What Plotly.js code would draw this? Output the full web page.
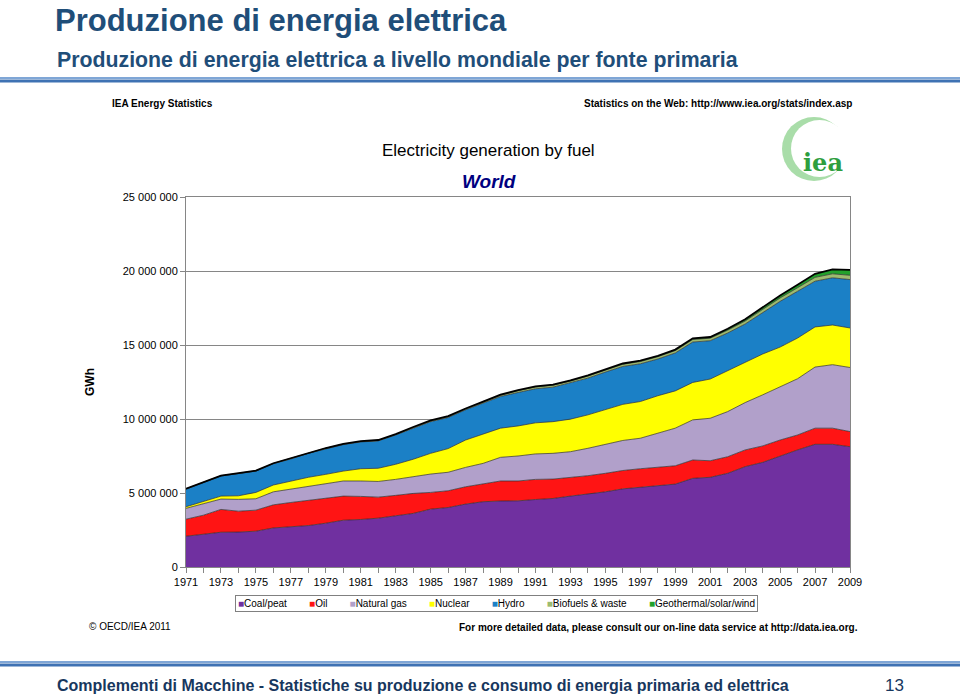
<!DOCTYPE html>
<html>
<head>
<meta charset="utf-8">
<script src="https://cdn.plot.ly/plotly-3.0.1.min.js"></script>
<style>
html,body{margin:0;padding:0;background:#fff;}
#chart{width:960px;height:697px;}
</style>
</head>
<body>
<div id="chart"></div>
<script>
// ---- Data (GWh) ----
const years = [1971,1972,1973,1974,1975,1976,1977,1978,1979,1980,
               1981,1982,1983,1984,1985,1986,1987,1988,1989,1990,
               1991,1992,1993,1994,1995,1996,1997,1998,1999,2000,
               2001,2002,2003,2004,2005,2006,2007,2008,2009];

const coal = [2080000,2220000,2350000,2360000,2420000,2640000,2730000,2800000,2960000,3160000,
              3210000,3300000,3460000,3620000,3910000,4020000,4250000,4410000,4460000,4470000,
              4560000,4630000,4790000,4930000,5080000,5280000,5380000,5490000,5600000,5990000,
              6060000,6330000,6780000,7070000,7500000,7910000,8290000,8290000,8130000];
const oil = [1150000,1280000,1540000,1410000,1420000,1560000,1630000,1720000,1710000,1630000,
             1560000,1420000,1380000,1350000,1130000,1130000,1170000,1190000,1350000,1340000,
             1360000,1310000,1240000,1240000,1250000,1240000,1260000,1260000,1240000,1240000,
             1120000,1120000,1130000,1110000,1080000,1010000,1090000,1090000,1020000];
const gas = [730000,790000,700000,800000,770000,880000,900000,950000,980000,1020000,
             1040000,1060000,1080000,1130000,1240000,1250000,1310000,1400000,1600000,1690000,
             1720000,1740000,1760000,1850000,1960000,2030000,2060000,2290000,2540000,2710000,
             2870000,3050000,3200000,3450000,3620000,3800000,4130000,4290000,4330000];
const nuclear = [110000,160000,200000,240000,430000,460000,550000,590000,610000,670000,
                 830000,890000,1020000,1180000,1400000,1600000,1850000,1970000,1970000,2030000,
                 2100000,2140000,2200000,2260000,2330000,2440000,2480000,2530000,2520000,2530000,
                 2650000,2760000,2670000,2760000,2660000,2750000,2710000,2680000,2670000];
const hydro = [1190000,1240000,1360000,1500000,1440000,1440000,1490000,1620000,1740000,1790000,
               1810000,1850000,1980000,2100000,2140000,2100000,2040000,2100000,2140000,2260000,
               2300000,2330000,2440000,2480000,2550000,2560000,2550000,2480000,2560000,2730000,
               2590000,2550000,2640000,2820000,3090000,3160000,3090000,3190000,3270000];
const biofuels = [20000,20000,20000,20000,20000,20000,30000,30000,30000,30000,
                  30000,40000,40000,50000,50000,60000,60000,70000,80000,120000,
                  120000,130000,130000,140000,140000,150000,150000,160000,160000,170000,
                  170000,190000,200000,220000,230000,240000,260000,270000,290000];
const geothermal = [10000,10000,10000,10000,10000,10000,10000,10000,10000,20000,
                    20000,20000,20000,30000,30000,30000,30000,30000,40000,40000,
                    40000,50000,50000,50000,50000,50000,60000,60000,70000,80000,
                    80000,100000,120000,140000,170000,200000,240000,300000,360000];

const seriesNames = ['Coal/peat','Oil','Natural gas','Nuclear','Hydro','Biofuels & waste','Geothermal/solar/wind'];
const seriesData = [coal, oil, gas, nuclear, hydro, biofuels, geothermal];
const seriesColors = ['#7030A0','#FF1414','#B1A0CA','#FFFF00','#1B80C6','#9DBB6F','#22A12B'];

// ---- helpers for page decoration (pixel -> paper coords) ----
const L = 186, R = 850, T = 197, B = 567;
const PX = x => (x - L) / (R - L);
const PY = y => (B - y) / (B - T);

const SANS = "'Liberation Sans', Arial, sans-serif";

const traces = seriesData.map((d, i) => ({
  type: 'scatter',
  mode: 'lines',
  x: years,
  y: d,
  name: seriesNames[i],
  stackgroup: 'one',
  fillcolor: seriesColors[i],
  line: {color: i === seriesData.length - 1 ? '#000000' : '#2b2b2b', width: i === seriesData.length - 1 ? 1.8 : 0.7},
  hoverinfo: 'skip'
}));

const legendText = seriesNames.map((n, i) =>
  '<span style="color:' + seriesColors[i] + '">■</span>' + n
).join('&nbsp;&nbsp;&nbsp;&nbsp;&nbsp;&nbsp;&nbsp;&nbsp;');

const titleColor = '#1F4E79';
const footColor = '#17375E';

const annotations = [
  {text: '<b>Produzione di energia elettrica a livello mondiale per fonte primaria</b>', x: PX(55), y: PY(60),
   xanchor: 'left', yanchor: 'middle', font: {family: SANS, size: 21.3, color: titleColor}},
  {text: '<b>IEA Energy Statistics</b>', x: PX(110), y: PY(104), xanchor: 'left', yanchor: 'middle',
   font: {family: SANS, size: 10, color: '#000'}},
  {text: '<b>Statistics on the Web: http://www.iea.org/stats/index.asp</b>', x: PX(582), y: PY(104), xanchor: 'left', yanchor: 'middle',
   font: {family: SANS, size: 10, color: '#000'}},
  {text: 'Electricity generation by fuel', x: PX(488), y: PY(150), xanchor: 'center', yanchor: 'middle',
   font: {family: SANS, size: 17, color: '#000'}},
  {text: '<b><i>World</i></b>', x: PX(489), y: PY(181), xanchor: 'center', yanchor: 'middle',
   font: {family: SANS, size: 19, color: '#000080'}},
  {text: '<b>iea</b>', x: PX(823), y: PY(162), xanchor: 'center', yanchor: 'middle',
   font: {family: "'DejaVu Serif', serif", size: 24, color: '#2E9E3E'}},
  {text: legendText, x: PX(496), y: PY(603), xanchor: 'center', yanchor: 'middle',
   font: {family: SANS, size: 10, color: '#000'}, bordercolor: '#808080', borderwidth: 1, borderpad: 2, bgcolor: '#fff'},
  {text: '© OECD/IEA 2011', x: PX(87), y: PY(626), xanchor: 'left', yanchor: 'middle',
   font: {family: SANS, size: 10, color: '#000'}},
  {text: '<b>For more detailed data, please consult our on-line data service at http://data.iea.org.</b>', x: PX(457), y: PY(627),
   xanchor: 'left', yanchor: 'middle', font: {family: SANS, size: 10, color: '#000'}},
  {text: '<b>Complementi di Macchine - Statistiche su produzione e consumo di energia primaria ed elettrica</b>', x: PX(55), y: PY(685),
   xanchor: 'left', yanchor: 'middle', font: {family: SANS, size: 16, color: footColor}},
  {text: '13', x: PX(894), y: PY(685), xanchor: 'center', yanchor: 'middle',
   font: {family: SANS, size: 17, color: footColor}}
].map(a => Object.assign({xref: 'paper', yref: 'paper', showarrow: false}, a));

const shapes = [
  {type: 'line', x0: PX(0), x1: PX(960), y0: PY(78), y1: PY(78), line: {color: '#7FA6D6', width: 2}},
  {type: 'line', x0: PX(0), x1: PX(960), y0: PY(81), y1: PY(81), line: {color: '#3F72B3', width: 3}},
  {type: 'line', x0: PX(0), x1: PX(960), y0: PY(662), y1: PY(662), line: {color: '#7FA6D6', width: 2}},
  {type: 'line', x0: PX(0), x1: PX(960), y0: PY(665), y1: PY(665), line: {color: '#3F72B3', width: 3}},
  {type: 'circle', x0: PX(782), x1: PX(846), y0: PY(181), y1: PY(117), fillcolor: '#A9DDA9', line: {width: 0}},
  {type: 'circle', x0: PX(791), x1: PX(848), y0: PY(177), y1: PY(120), fillcolor: '#ffffff', line: {width: 0}}
].map(s => Object.assign({xref: 'paper', yref: 'paper', layer: 'above'}, s));

const layout = {
  width: 960, height: 697,
  margin: {l: L, r: 960 - R, t: T, b: 697 - B, pad: 0},
  paper_bgcolor: '#ffffff', plot_bgcolor: '#ffffff',
  separators: '. ',
  showlegend: false,
  title: {text: '<b>Produzione di energia elettrica</b>', xref: 'container', yref: 'container',
          x: 55 / 960, xanchor: 'left', y: 1 - 20 / 697, yanchor: 'middle',
          font: {family: SANS, size: 31, color: titleColor}},
  xaxis: {
    type: 'linear', range: [1971, 2009], tick0: 1971, dtick: 2,
    ticks: 'outside', ticklen: 5, tickcolor: '#868686', tickwidth: 1,
    showline: true, linecolor: '#868686', linewidth: 1, mirror: true,
    showgrid: false, zeroline: false,
    tickfont: {family: SANS, size: 11, color: '#000'},
    minor: {dtick: 1, ticks: 'outside', ticklen: 5, tickcolor: '#868686', showgrid: false}
  },
  yaxis: {
    range: [0, 25000000], dtick: 5000000, tickformat: ',.0f',
    ticks: 'outside', ticklen: 5, tickcolor: '#868686',
    showline: true, linecolor: '#868686', linewidth: 1, mirror: true,
    showgrid: true, gridcolor: '#868686', gridwidth: 1, zeroline: false,
    tickfont: {family: SANS, size: 11, color: '#000'},
    title: {text: '<b>GWh</b>', standoff: 25, font: {family: SANS, size: 12, color: '#000'}}
  },
  annotations: annotations,
  shapes: shapes
};

Plotly.newPlot('chart', traces, layout, {displayModeBar: false, staticPlot: true});
</script>
</body>
</html>
